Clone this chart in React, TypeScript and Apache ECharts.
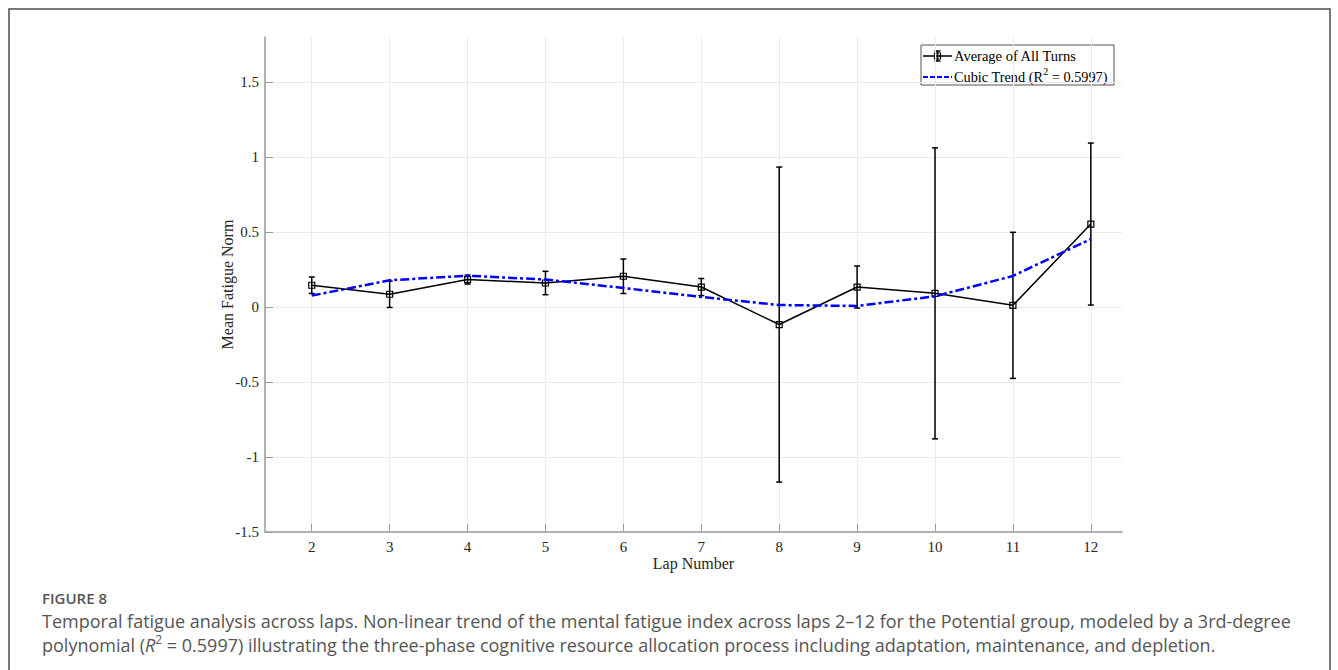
import React, { useEffect, useRef } from "react";
import * as echarts from "echarts";

const laps = [2, 3, 4, 5, 6, 7, 8, 9, 10, 11, 12];
const meanFatigue = [0.145, 0.085, 0.183, 0.16, 0.205, 0.133, -0.117, 0.133, 0.091, 0.011, 0.553];
const errorHalf = [0.055, 0.088, 0.03, 0.078, 0.115, 0.057, 1.05, 0.14, 0.97, 0.487, 0.54];
const cubicTrend = [0.076, 0.178, 0.209, 0.183, 0.127, 0.067, 0.013, 0.007, 0.071, 0.207, 0.453];
const xTicks = [2, 3, 4, 5, 6, 7, 8, 9, 10, 11, 12];
const yTicks = [-1.5, -1, -0.5, 0, 0.5, 1, 1.5];

const SERIF = "'Liberation Serif', 'Times New Roman', serif";
const SANS = "'Open Sans', 'Noto Sans', sans-serif";

export default function App() {
  const ref = useRef<HTMLDivElement>(null);
  useEffect(() => {
    if (!ref.current) return;
    const chart = echarts.init(ref.current, undefined, { renderer: "svg" });
    const axisColor = "#9a9a9a";
    const gridColor = "#ececec";
    const legendX = 921;
    const legendY = 45;
    chart.setOption({
      animation: false,
      backgroundColor: "#ffffff",
      grid: { left: 265, right: 216, top: 37, bottom: 138, containLabel: false },
      xAxis: {
        type: "value",
        min: 1.4,
        max: 12.4,
        name: "Lap Number",
        nameLocation: "middle",
        nameGap: 23,
        nameMoveOverlap: false,
        nameTextStyle: { fontFamily: SERIF, fontSize: 16, color: "#262626" },
        axisLine: { show: true, onZero: false, lineStyle: { color: axisColor, width: 1.5 } },
        axisTick: { show: true, inside: true, length: 8, customValues: xTicks, lineStyle: { color: axisColor, width: 1 } },
        axisLabel: { customValues: xTicks, fontFamily: SERIF, fontSize: 15, color: "#262626", margin: 7, formatter: (v: number) => String(v) },
        splitLine: { show: true, lineStyle: { color: gridColor, width: 1 } },
      },
      yAxis: {
        type: "value",
        min: -1.5,
        max: 1.8,
        name: "Mean Fatigue Norm",
        nameLocation: "middle",
        nameGap: 30,
        nameMoveOverlap: false,
        nameTextStyle: { fontFamily: SERIF, fontSize: 16, color: "#262626" },
        axisLine: { show: true, onZero: false, lineStyle: { color: axisColor, width: 1.5 } },
        axisTick: { show: true, inside: true, length: 8, customValues: yTicks, lineStyle: { color: axisColor, width: 1 } },
        axisLabel: { customValues: yTicks, fontFamily: SERIF, fontSize: 15, color: "#262626", margin: 6, formatter: (v: number) => String(v) },
        splitLine: { show: true, lineStyle: { color: gridColor, width: 1 } },
      },
      series: [
        {
          type: "custom",
          name: "errors",
          data: laps.map((l, i) => [l, meanFatigue[i], errorHalf[i]]),
          encode: { x: 0, y: 1 },
          z: 3,
          renderItem: (params: any, api: any) => {
            const x = api.value(0);
            const y = api.value(1);
            const e = api.value(2);
            const top = api.coord([x, y + e]);
            const bot = api.coord([x, y - e]);
            const cap = 3;
            const style = { stroke: "#000", lineWidth: 1.5 };
            return {
              type: "group",
              children: [
                { type: "line", shape: { x1: top[0], y1: top[1], x2: bot[0], y2: bot[1] }, style },
                { type: "line", shape: { x1: top[0] - cap, y1: top[1], x2: top[0] + cap, y2: top[1] }, style },
                { type: "line", shape: { x1: bot[0] - cap, y1: bot[1], x2: bot[0] + cap, y2: bot[1] }, style },
              ],
            };
          },
        },
        {
          type: "line",
          name: "Average of All Turns",
          data: laps.map((l, i) => [l, meanFatigue[i]]),
          z: 4,
          symbol: "rect",
          symbolSize: 6,
          lineStyle: { color: "#000", width: 1.5 },
          itemStyle: { color: "rgba(0,0,0,0)", borderColor: "#000", borderWidth: 1.2 },
        },
        {
          type: "line",
          name: "Cubic Trend",
          data: laps.map((l, i) => [l, cubicTrend[i]]),
          z: 5,
          symbol: "none",
          lineStyle: { color: "#0000ff", width: 2.5, type: [9, 3, 3, 3] },
        },
      ],
      graphic: [
        {
          type: "rect",
          shape: { x: 9, y: 9, width: 1321, height: 720 },
          style: { fill: "none", stroke: "#4d4d4d", lineWidth: 1.5 },
          silent: true,
        },
        {
          type: "group",
          z: 100,
          children: [
            {
              type: "rect",
              shape: { x: legendX, y: legendY, width: 193, height: 40 },
              style: { fill: "#fff", stroke: "#555", lineWidth: 1 },
            },
            { type: "line", shape: { x1: 923, y1: 56, x2: 952, y2: 56 }, style: { stroke: "#000", lineWidth: 1.5 } },
            { type: "line", shape: { x1: 937.5, y1: 51, x2: 937.5, y2: 61 }, style: { stroke: "#000", lineWidth: 1.5 } },
            { type: "line", shape: { x1: 934.5, y1: 51, x2: 940.5, y2: 51 }, style: { stroke: "#000", lineWidth: 1.5 } },
            { type: "line", shape: { x1: 934.5, y1: 61, x2: 940.5, y2: 61 }, style: { stroke: "#000", lineWidth: 1.5 } },
            { type: "rect", shape: { x: 934.5, y: 53, width: 6, height: 6 }, style: { fill: "none", stroke: "#000", lineWidth: 1.2 } },
            { type: "line", shape: { x1: 923, y1: 77, x2: 952, y2: 77 }, style: { stroke: "#0000ff", lineWidth: 2, lineDash: [5, 2] } },
            {
              type: "text",
              x: 954,
              y: 56,
              style: { text: "Average of All Turns", fontFamily: SERIF, fontSize: 14.5, fill: "#000", verticalAlign: "middle", align: "left" },
            },
            {
              type: "text",
              x: 954,
              y: 77,
              style: {
                text: "{n|Cubic Trend (R}{s|2}{n| = 0.5997)}",
                verticalAlign: "middle",
                align: "left",
                rich: {
                  n: { fontFamily: SERIF, fontSize: 14.3, fill: "#000", lineHeight: 22 },
                  s: { fontFamily: SERIF, fontSize: 10, fill: "#000", verticalAlign: "top", lineHeight: 10 },
                },
              },
            },
          ],
        },
        {
          type: "text",
          x: 42,
          y: 598,
          style: { text: "FIGURE 8", fontFamily: SANS, fontSize: 15, fontWeight: 600, fill: "#555", verticalAlign: "middle", align: "left" },
        },
        {
          type: "text",
          x: 42,
          y: 621,
          style: {
            text: "Temporal fatigue analysis across laps. Non-linear trend of the mental fatigue index across laps 2\u201312 for the Potential group, modeled by a 3rd-degree",
            fontFamily: SANS,
            fontSize: 18,
            fill: "#555",
            verticalAlign: "middle",
            align: "left",
          },
        },
        {
          type: "text",
          x: 42,
          y: 645,
          style: {
            text: "{n|polynomial (}{i|R}{s|2}{n| = 0.5997) illustrating the three-phase cognitive resource allocation process including adaptation, maintenance, and depletion.}",
            verticalAlign: "middle",
            align: "left",
            rich: {
              n: { fontFamily: SANS, fontSize: 18, fill: "#555", lineHeight: 24 },
              i: { fontFamily: SANS, fontSize: 18, fontStyle: "italic", fill: "#555", lineHeight: 24 },
              s: { fontFamily: SANS, fontSize: 12, fill: "#555", verticalAlign: "top", lineHeight: 12 },
            },
          },
        },
      ],
    });
    return () => chart.dispose();
  }, []);
  return (
    <div
      ref={ref}
      style={{ position: "absolute", left: 0, top: 0, width: 1338, height: 670, background: "#fff" }}
    />
  );
}
